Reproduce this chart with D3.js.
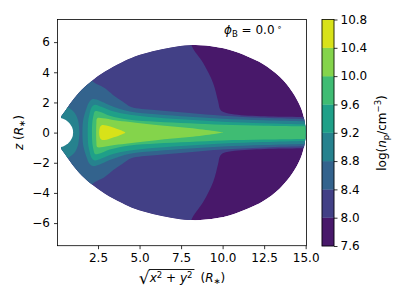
<!DOCTYPE html>
<html>
<head>
<meta charset="utf-8">
<script src="https://cdn.jsdelivr.net/npm/d3@7"></script>
<style>
  body { margin: 0; background: white; }
  svg { display: block; font-family: "DejaVu Sans", sans-serif; }
</style>
</head>
<body>
<div id="chart"></div>
<script>
// contour levels of log(n_p / cm^-3)
let levels = [7.6, 8.0, 8.4, 8.8, 9.2, 9.6, 10.0, 10.4, 10.8];
let xTicks = [2.5, 5.0, 7.5, 10.0, 12.5, 15.0];
let yTicks = [-6, -4, -2, 0, 2, 4, 6];

// outer edge of the model domain, upper half [sqrt(x^2+y^2), z]
let outerEdge = [[0.28,0.96],[0.28,1.05],[0.5,1.4],[0.92,2.06],[1.52,2.84],[2.12,3.43],
  [2.92,4.05],[3.92,4.65],[4.72,5.05],[5.8,5.4],[6.9,5.65],[8.0,5.8],[9.0,5.77],
  [10.4,5.49],[11.5,5.05],[12.43,4.55],[13.44,3.7],[14.2,2.7],[14.7,1.68],[14.93,0.8],[15.0,0]];

// contour lines, upper half (mirrored for z < 0)
let c80 = [[-1,8],[7.8,8],[8.1,5.85],[8.83,4.61],[9.43,3.28],[9.73,2.06],[9.85,1.55],
  [10.05,1.36],[10.73,1.2],[12.54,1.08],[14.74,1.03],[16,1.0]];
let c84 = [[-1,5],[1.2,5],[2.12,3.45],[2.9,2.95],[3.4,2.5],[4.0,2.05],[4.5,1.7],
  [5.9,1.5],[8.0,1.3],[10.0,1.12],[12.5,0.98],[15,0.9],[16,0.9]];
let c88star = [[-1,1.9],[0.35,1.9],[0.8,1.6],[1.1,1.3],[1.3,0.8],[1.38,0]];
let c88 = [[1.55,0],[1.58,0.6],[1.66,1.1],[1.8,1.6],[1.98,2.05],[2.2,2.22],[2.6,2.12],
  [3.2,1.82],[4.42,1.4],[6,1.22],[8,1.05],[10,0.92],[12.5,0.82],[15,0.75],[16,0.74]];
let c92 = [[1.86,0],[1.9,0.7],[1.98,1.2],[2.1,1.65],[2.3,1.85],[2.7,1.72],[3.4,1.42],
  [4.42,1.18],[6,1.0],[8,0.85],[10,0.72],[12.5,0.62],[15,0.55],[16,0.55]];
let c96 = [[2.12,0],[2.15,0.6],[2.22,1.1],[2.32,1.42],[2.6,1.38],[3.2,1.12],[4.42,0.85],
  [6,0.72],[8,0.62],[10,0.52],[12.5,0.46],[15,0.42],[16,0.42]];
let c100 = [[2.38,0],[2.4,0.6],[2.45,0.95],[2.8,0.95],[3.5,0.82],[4.42,0.7],[6,0.5],
  [8,0.3],[9.5,0.1],[10.05,0]];
let c104 = [[2.58,0],[2.6,0.3],[2.72,0.48],[3.0,0.47],[3.5,0.3],[4.1,0.04],[4.15,0]];

let w = 407, h = 305;
let fs = 12;
let svg = d3.select("#chart").append("svg").attr("width", w).attr("height", h);

let x = d3.scaleLinear().domain([0.06, 15.05]).range([57.5, 306.5]);
let y = d3.scaleLinear().domain([-7.5, 7.5]).range([245.7, 19.5]);

let bandColor = function(i){ return d3.interpolateViridis((i + 0.5) / (levels.length - 1)); };

// mirror an upper-half line into a closed outline
function closeShape(upper){
  let top = upper.slice().reverse();
  let bottom = upper.map(function(p){ return [p[0], -p[1]]; })
    .filter(function(p, i){ return !(i == 0 && p[1] == 0); });
  if (top[top.length-1][1] == 0) top.pop();
  return top.concat(bottom);
}
let line = d3.line().x(function(d){ return x(d[0]); }).y(function(d){ return y(d[1]); })
  .curve(d3.curveCatmullRom.alpha(0.5));

let outerShape = outerEdge.concat(outerEdge.slice(0, -1).reverse().map(function(p){ return [p[0], -p[1]]; }));

svg.append("clipPath").attr("id", "domainClip")
  .append("path").attr("d", line(outerShape) + "Z");
svg.append("clipPath").attr("id", "axClip")
  .append("rect").attr("x", 57.5).attr("y", 19.5).attr("width", 249).attr("height", 226.2);

let plot = svg.append("g").attr("clip-path", "url(#axClip)");
let field = plot.append("g").attr("clip-path", "url(#domainClip)");

field.append("path").attr("d", line(outerShape) + "Z").attr("fill", bandColor(0));

let regions = [
  {shape: c80, band: 1}, {shape: c84, band: 2}, {shape: c88star, band: 3},
  {shape: c88, band: 3}, {shape: c92, band: 4}, {shape: c96, band: 5},
  {shape: c100, band: 6}, {shape: c104, band: 7}
];
field.selectAll(".band").data(regions).enter()
  .append("path")
  .attr("class", "band")
  .attr("d", function(d){ return line(closeShape(d.shape)) + "Z"; })
  .attr("fill", function(d){ return bandColor(d.band); });

// the star itself (r = 1) is left blank
plot.append("ellipse")
  .attr("cx", x(0)).attr("cy", y(0))
  .attr("rx", x(1) - x(0)).attr("ry", y(0) - y(1))
  .attr("fill", "white");

// axes
let xAxis = d3.axisBottom(x).tickValues(xTicks).tickFormat(d3.format(".1f"))
  .tickSize(3.5).tickPadding(4.5);
let xAxisGroup = svg.append("g").attr("transform", "translate(0,245.7)").call(xAxis);
let yAxis = d3.axisLeft(y).tickValues(yTicks).tickFormat(d3.format("d"))
  .tickSize(3.5).tickPadding(4);
let yAxisGroup = svg.append("g").attr("transform", "translate(57.5,0)").call(yAxis);
[xAxisGroup, yAxisGroup].forEach(function(g){
  g.select(".domain").remove();
  g.selectAll("text").attr("font-size", fs).attr("font-family", "DejaVu Sans").attr("fill", "black");
  g.selectAll("line").attr("stroke", "black").attr("stroke-width", 0.8);
});

svg.append("rect").attr("x", 57.5).attr("y", 19.5).attr("width", 249).attr("height", 226.2)
  .attr("fill", "none").attr("stroke", "black").attr("stroke-width", 0.8);

// annotation
let ann = svg.append("text").attr("x", 224).attr("y", 34).attr("font-size", fs);
ann.append("tspan").attr("font-style", "italic").text("ϕ");
ann.append("tspan").attr("font-size", 8.5).attr("dy", 2.5).text("B");
ann.append("tspan").attr("dy", -2.5).text(" = 0.0");
ann.append("tspan").attr("font-size", 8).attr("dy", -4.5).text(" ∘");

// y label
let yl = svg.append("text").attr("transform", "translate(23,132.6) rotate(-90)")
  .attr("text-anchor", "middle").attr("font-size", fs);
yl.append("tspan").attr("font-style", "italic").text("z");
yl.append("tspan").text(" (");
yl.append("tspan").attr("font-style", "italic").text("R");
yl.append("tspan").attr("font-size", 8.5).attr("dy", 2).text("∗");
yl.append("tspan").attr("dy", -2).text(")");

// x label: sqrt(x^2 + y^2) (R*)
let xl = svg.append("g");
let rad = xl.append("text").attr("x", 0).attr("y", 284).attr("font-size", 17).text("√");
let radW = rad.node().getBBox().width;
let inner = xl.append("text").attr("x", radW).attr("y", 282).attr("font-size", fs);
inner.append("tspan").attr("font-style", "italic").text("x");
inner.append("tspan").attr("font-size", 8.5).attr("dy", -4.5).text("2");
inner.append("tspan").attr("dy", 4.5).text(" + ");
inner.append("tspan").attr("font-style", "italic").text("y");
inner.append("tspan").attr("font-size", 8.5).attr("dy", -4.5).text("2");
let innerW = inner.node().getBBox().width;
xl.append("line").attr("x1", radW - 1).attr("x2", radW + innerW + 1)
  .attr("y1", 269.5).attr("y2", 269.5).attr("stroke", "black").attr("stroke-width", 0.9);
let unit = xl.append("text").attr("x", radW + innerW + 7).attr("y", 282).attr("font-size", fs);
unit.append("tspan").text("(");
unit.append("tspan").attr("font-style", "italic").text("R");
unit.append("tspan").attr("font-size", 8.5).attr("dy", 2).text("∗");
unit.append("tspan").attr("dy", -2).text(")");
let totalW = radW + innerW + 7 + unit.node().getBBox().width;
xl.attr("transform", "translate(" + (182 - totalW / 2) + ",0)");

// colorbar
let cb = svg.append("g");
let cbY = d3.scaleLinear().domain([levels[0], levels[levels.length-1]]).range([246, 19.5]);
cb.selectAll(".cbband").data(d3.range(levels.length - 1)).enter()
  .append("rect")
  .attr("class", "cbband")
  .attr("x", 322).attr("width", 12)
  .attr("y", function(i){ return cbY(levels[i+1]); })
  .attr("height", function(i){ return cbY(levels[i]) - cbY(levels[i+1]); })
  .attr("fill", function(i){ return bandColor(i); })
  .attr("stroke", function(i){ return bandColor(i); }).attr("stroke-width", 0.3);
cb.append("rect").attr("x", 322).attr("y", 19.5).attr("width", 12).attr("height", 226.5)
  .attr("fill", "none").attr("stroke", "black").attr("stroke-width", 0.8);
let cbAxis = d3.axisRight(cbY).tickValues(levels).tickFormat(d3.format(".1f"))
  .tickSize(3.5).tickPadding(3);
let cbAxisGroup = svg.append("g").attr("transform", "translate(334,0)").call(cbAxis);
cbAxisGroup.select(".domain").remove();
cbAxisGroup.selectAll("text").attr("font-size", fs).attr("font-family", "DejaVu Sans").attr("fill", "black");
cbAxisGroup.selectAll("line").attr("stroke", "black").attr("stroke-width", 0.8);

let cl = svg.append("text").attr("transform", "translate(386,133) rotate(-90)")
  .attr("text-anchor", "middle").attr("font-size", fs);
cl.append("tspan").text("log(");
cl.append("tspan").attr("font-style", "italic").text("n");
cl.append("tspan").attr("font-size", 8.5).attr("dy", 2.5).text("p");
cl.append("tspan").attr("dy", -2.5).text("/cm");
cl.append("tspan").attr("font-size", 8.5).attr("dy", -5).text("−3");
cl.append("tspan").attr("dy", 5).text(")");
</script>
</body>
</html>
